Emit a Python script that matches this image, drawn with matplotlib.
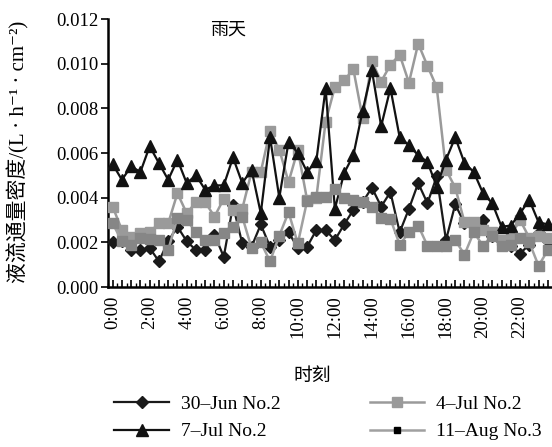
import numpy as np
import matplotlib
matplotlib.use('Agg')
import matplotlib.pyplot as plt
from matplotlib.lines import Line2D
from matplotlib.ticker import FormatStrFormatter

plt.rcParams['font.family'] = ['Liberation Serif', 'Noto Sans CJK SC', 'DejaVu Serif']

# half-hourly sap flux density, units of 0.001 L/(h*cm2)
jun30 = [2.0, 2.05, 1.65, 1.65, 1.75, 1.15, 2.05, 2.7, 2.05, 1.65, 1.65, 2.35,
         1.35, 3.65, 1.95, 1.8, 2.8, 1.8, 2.1, 2.45, 1.75, 1.8, 2.55, 2.55,
         2.1, 2.8, 3.45, 3.8, 4.45, 3.6, 4.25, 2.45, 3.5, 4.65, 3.75, 4.95,
         2.1, 3.7, 2.85, 2.85, 3.0, 2.3, 2.05, 1.85, 1.5, 1.9, 2.4, 2.05]
jul4 = [3.6, 2.55, 2.25, 2.4, 2.45, 2.85, 2.85, 4.2, 3.3, 3.8, 3.8, 3.15,
        3.95, 3.45, 3.5, 5.15, 5.15, 7.0, 6.15, 4.7, 6.15, 3.9, 4.0, 7.4,
        8.95, 9.25, 9.75, 7.55, 10.1, 9.2, 9.95, 10.4, 9.15, 10.9, 9.9, 8.95,
        5.25, 4.45, 2.9, 2.9, 2.55, 2.45, 2.1, 2.3, 3.0, 2.2, 2.3, 2.2]
jul7 = [5.5, 4.8, 5.4, 5.15, 6.3, 5.55, 4.8, 5.7, 4.65, 5.0, 4.35, 4.55,
        4.55, 5.8, 4.65, 5.25, 3.3, 6.7, 4.0, 6.5, 6.0, 5.15, 5.65, 8.9,
        3.5, 5.1, 5.9, 7.9, 9.7, 7.2, 8.9, 6.7, 6.35, 5.9, 5.6, 4.5,
        5.7, 6.7, 5.55, 5.15, 4.2, 3.75, 2.7, 2.75, 3.3, 3.9, 2.9, 2.8]
aug11 = [2.85, 2.05, 1.9, 2.2, 2.15, 2.1, 1.65, 3.1, 3.0, 2.45, 2.1, 2.1,
         2.4, 2.7, 3.15, 1.75, 2.0, 1.15, 2.3, 3.35, 1.95, 3.85, 4.05, 4.05,
         4.4, 4.0, 3.9, 3.8, 3.6, 3.1, 3.05, 1.9, 2.45, 2.75, 1.85, 1.85,
         1.85, 2.1, 1.45, 2.45, 1.85, 2.3, 1.85, 1.9, 2.2, 2.0, 0.95, 1.65]

series_names = ['30–Jun No.2', '4–Jul No.2', '7–Jul No.2', '11–Aug No.3']
time_labels = ['0:00', '2:00', '4:00', '6:00', '8:00', '10:00',
               '12:00', '14:00', '16:00', '18:00', '20:00', '22:00']

x = np.arange(len(jun30))
scale = 0.001

fig = plt.figure(figsize=(5.52, 4.47), dpi=100)
ax = fig.add_axes([108 / 552, 160 / 447, 444 / 552, 268 / 447])

ax.plot(x, np.array(jun30) * scale, color='#1a1a1a', lw=1.6, marker='D',
        ms=6, zorder=3)
ax.plot(x, np.array(jul4) * scale, color='#9a9a9a', lw=1.8, marker='s',
        ms=7, zorder=4)
ax.plot(x, np.array(jul7) * scale, color='#111111', lw=1.6, marker='^',
        ms=8.5, zorder=5)
ax.plot(x, np.array(aug11) * scale, color='#a0a0a0', lw=1.8, marker='s',
        ms=7, mfc='#868686', mec='#868686', zorder=6)

ax.set_xlim(-0.3, 47.45)
ax.set_ylim(0, 0.012)
ax.set_yticks(np.arange(0, 0.0121, 0.002))
ax.yaxis.set_major_formatter(FormatStrFormatter('%.3f'))

# a tick at every half hour, a label every two hours
ax.set_xticks(x)
ax.set_xticklabels([time_labels[i // 4] if i % 4 == 0 else '' for i in x],
                   rotation=90)
ax.set_xticks(x - 0.5, minor=True)

for side in ['top', 'right']:
    ax.spines[side].set_visible(False)
for side in ['left', 'bottom']:
    ax.spines[side].set_linewidth(1.8)
ax.tick_params(axis='y', direction='out', length=5, width=1.2,
               labelsize=13.5, pad=2)
ax.tick_params(axis='x', which='major', direction='in', length=5, width=1.2,
               labelsize=13.5, pad=6)
ax.tick_params(axis='x', which='minor', direction='in', length=3, width=1.0)

fig.text(228 / 552, 1 - 30 / 447, '雨天', ha='center', va='center',
         fontsize=13, family=['Noto Sans CJK SC'])
fig.text(312 / 552, 1 - 375 / 447, '时刻', ha='center', va='center',
         fontsize=13.5, family=['Noto Sans CJK SC'])
fig.text(18 / 552, 1 - 152 / 447, '液流通量密度/(L · h⁻¹ · cm⁻²)',
         ha='center', va='center', rotation=90, fontsize=15)

handles = [
    Line2D([], [], color='#1a1a1a', lw=1.6, marker='D', ms=6),
    Line2D([], [], color='#111111', lw=1.6, marker='^', ms=8.5),
    Line2D([], [], color='#9a9a9a', lw=1.8, marker='s', ms=7),
    Line2D([], [], color='#a0a0a0', lw=1.8, marker='s', ms=5,
           mfc='black', mec='black'),
]
labels = [series_names[0], series_names[2], series_names[1], series_names[3]]
fig.legend(handles, labels, ncol=2, loc='center', frameon=False,
           bbox_to_anchor=(328 / 552, 1 - 418 / 447), fontsize=14,
           handlelength=2.8, columnspacing=4.6, labelspacing=0.5,
           handletextpad=0.6)

fig.savefig('out.png', dpi=100)
